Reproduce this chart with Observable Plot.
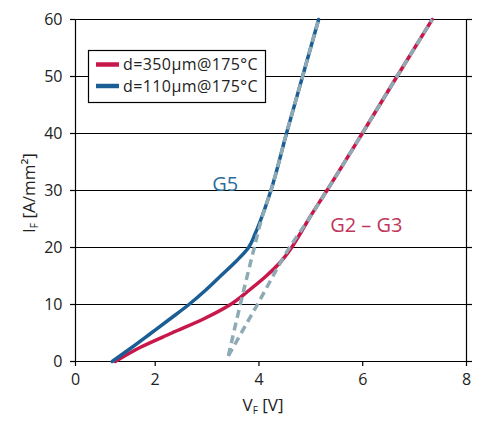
<!DOCTYPE html>
<html><head><meta charset="utf-8">
<script src="https://cdn.jsdelivr.net/npm/d3@7"></script>
<script src="https://cdn.jsdelivr.net/npm/@observablehq/plot@0.6"></script>
<style>body{margin:0;background:#fff} #chart{width:490px;height:431px}</style>
</head><body><div id="chart"></div>
<script>
// Forward current density I_F [A/mm²] samples
const currents = [0, 2.5, 5, 7.5, 10, 12.5, 15, 17.5, 20, 22.5, 25, 30, 40, 50, 60];
// Forward voltage V_F [V] for d=350µm (G2–G3)
const vThick = [1.00, 1.63, 2.32, 2.94, 3.45, 3.81, 4.14, 4.42, 4.63, 4.80, 4.96, 5.31, 5.99, 6.66, 7.34];
// Forward voltage V_F [V] for d=110µm (G5)
const vThin = [0.92, 1.42, 1.90, 2.29, 2.65, 2.97, 3.26, 3.55, 3.80, 3.93, 4.04, 4.23, 4.53, 4.84, 5.15];
// Dashed fit curves
const fitCurrents = [1, 10, 20, 25, 30, 40, 50, 60];
const fitG5 = [3.41, 3.64, 3.91, 4.05, 4.23, 4.53, 4.84, 5.15];
const fitG23 = [3.41, 3.97, 4.59, 4.96, 5.31, 5.99, 6.66, 7.34];
const seriesNames = ["d=350µm@175°C", "d=110µm@175°C"];
const seriesColors = ["#c8174b", "#1b5e95"];
const fitColor = "#8eaab4";
const xTicks = [0, 2, 4, 6, 8];
const yTicks = [0, 10, 20, 30, 40, 50, 60];
const noteLabels = ["G5", "G2 – G3"];
const noteV = [3.35, 6.07];
const noteI = [30, 22.8];
const noteColors = ["#2f6c9c", "#c0365c"];

const toRows = (vs, is) => is.map((I, i) => ({V: vs[i], I}));
const thick = toRows(vThick, currents);
const thin = toRows(vThin, currents);
const fit5 = toRows(fitG5, fitCurrents);
const fit23 = toRows(fitG23, fitCurrents);
const notes = noteLabels.map((label, i) => ({label, V: noteV[i], I: noteI[i], color: noteColors[i]}));

const dashOpts = {x: "V", y: "I", stroke: fitColor, strokeWidth: 3.5, strokeDasharray: "8 5", strokeLinecap: "butt", curve: "monotone-y"};

const plot = Plot.plot({
  width: 490, height: 431,
  marginLeft: 75, marginRight: 24, marginTop: 19, marginBottom: 70,
  style: {fontFamily: "'Open Sans', sans-serif", fontSize: "16px", color: "#222", background: "#fff", overflow: "visible"},
  x: {type: "linear", domain: [0, 2, 8], range: [75, 154.7, 466]},
  y: {domain: [0, 60]},
  marks: [
    Plot.ruleY(yTicks, {stroke: "#000", strokeWidth: 1.2}),
    Plot.ruleX([0, 8], {stroke: "#000", strokeWidth: 1.2}),
    Plot.axisX({ticks: xTicks, tickSize: 5, tickPadding: 7, label: null, tickFormat: d => d, stroke: "#000", strokeWidth: 1.2}),
    Plot.axisY({ticks: yTicks, tickSize: 5, tickPadding: 8, label: null, stroke: "#000", strokeWidth: 1.2}),
    Plot.axisY({anchor: "right", ticks: yTicks, tickSize: 5, label: null, tickFormat: () => "", stroke: "#000", strokeWidth: 1.2}),
    Plot.line(thick, {x: "V", y: "I", stroke: seriesColors[0], strokeWidth: 3.5, curve: "monotone-y"}),
    Plot.line(thin, {x: "V", y: "I", stroke: seriesColors[1], strokeWidth: 3.5, curve: "monotone-y"}),
    Plot.line(fit5, dashOpts),
    Plot.line(fit23, dashOpts),
    Plot.text(notes, {x: "V", y: "I", text: "label", fill: "color", fontSize: 20, lineAnchor: "bottom", textAnchor: "middle"})
  ]
});

const svg = d3.select(plot);
// Legend
const lg = svg.append("g").attr("font-family", "'Open Sans', sans-serif").attr("font-size", 16)
  .attr("fill", "#222").attr("text-anchor", "start");
lg.append("rect").attr("x", 88.5).attr("y", 50.5).attr("width", 177).attr("height", 52)
  .attr("fill", "#fff").attr("stroke", "#000").attr("stroke-width", 1.2);
seriesNames.forEach((n, i) => {
  const cy = 64.5 + i * 21.5;
  lg.append("line").attr("x1", 96).attr("x2", 119).attr("y1", cy).attr("y2", cy)
    .attr("stroke", seriesColors[i]).attr("stroke-width", 4.5);
  lg.append("text").attr("x", 123).attr("y", cy).attr("dy", "0.36em").attr("letter-spacing", 0.4)
    .attr("text-anchor", "start").text(n);
});
// Axis labels with subscripts
const xl = svg.append("text").attr("x", 263).attr("y", 411).attr("text-anchor", "middle")
  .attr("font-family", "'Open Sans', sans-serif").attr("font-size", 17).attr("fill", "#222");
xl.append("tspan").text("V");
xl.append("tspan").attr("font-size", 10).attr("dy", 3).text("F");
xl.append("tspan").attr("dy", -3).text(" [V]");
const yl = svg.append("text").attr("transform", "translate(35,193) rotate(-90)").attr("text-anchor", "middle")
  .attr("font-family", "'Open Sans', sans-serif").attr("font-size", 17).attr("fill", "#222");
yl.append("tspan").text("I");
yl.append("tspan").attr("font-size", 10).attr("dy", 3).text("F");
yl.append("tspan").attr("dy", -3).text(" [A/mm²]");

document.getElementById("chart").appendChild(plot);
</script>
</body></html>
